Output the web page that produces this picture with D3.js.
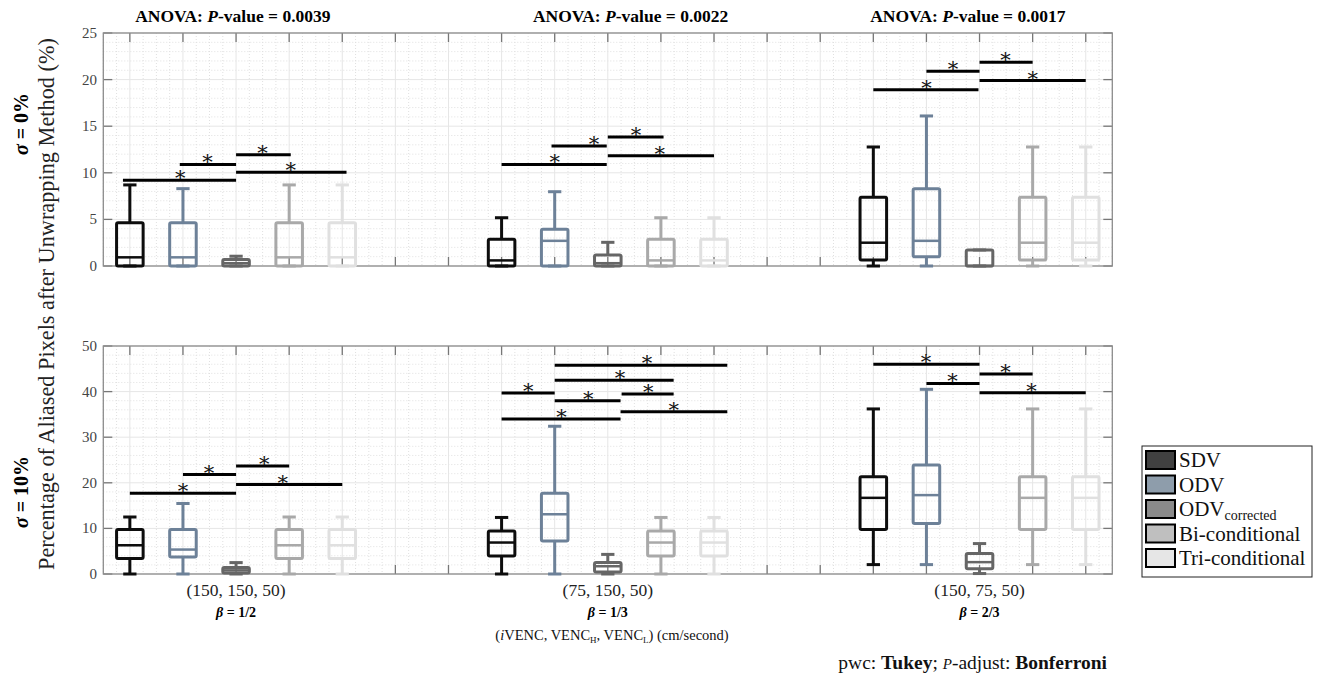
<!DOCTYPE html>
<html>
<head>
<meta charset="utf-8">
<script src="https://cdn.jsdelivr.net/npm/d3@7"></script>
<style>
  body { margin: 0; background: #fff; }
</style>
</head>
<body>
<svg id="chart"></svg>
<script>
// ---- data ----
const methods = ["SDV", "ODV", "ODV_corrected", "Bi-conditional", "Tri-conditional"];
const groupLabels = ["(150, 150, 50)", "(75, 150, 50)", "(150, 75, 50)"];
const betaLabels = ["1/2", "1/3", "2/3"];
const anovaP = ["0.0039", "0.0022", "0.0017"];
const sigmaLabels = ["0%", "10%"];
const yTicks0 = [0, 5, 10, 15, 20, 25];
const yTicks10 = [0, 10, 20, 30, 40, 50];

// box stats per group, per method: [min, q1, median, q3, max]
const stats0 = [
  [[0, 0, 0.93, 4.65, 8.7], [0, 0, 0.93, 4.65, 8.3], [0, 0, 0.3, 0.7, 1.05], [0, 0, 0.93, 4.65, 8.7], [0, 0, 0.93, 4.65, 8.7]],
  [[0, 0, 0.6, 2.86, 5.18], [0, 0, 2.7, 3.94, 7.97], [0, 0, 0.3, 1.18, 2.54], [0, 0, 0.6, 2.86, 5.18], [0, 0, 0.6, 2.86, 5.18]],
  [[0, 0.64, 2.5, 7.37, 12.77], [0, 1.0, 2.7, 8.3, 16.1], [0, 0, 0, 1.72, 1.72], [0, 0.64, 2.5, 7.37, 12.77], [0, 0.64, 2.5, 7.37, 12.77]]
];
const stats10 = [
  [[0, 3.38, 6.3, 9.75, 12.5], [0, 3.75, 5.36, 9.75, 15.46], [0, 0.2, 0.8, 1.4, 2.5], [0, 3.38, 6.3, 9.75, 12.5], [0, 3.38, 6.3, 9.75, 12.5]],
  [[0, 3.96, 6.9, 9.45, 12.4], [0, 7.26, 13.1, 17.7, 32.4], [0, 0.45, 1.7, 2.5, 4.3], [0, 3.96, 6.9, 9.45, 12.4], [0, 3.96, 6.9, 9.45, 12.4]],
  [[2.06, 9.75, 16.7, 21.3, 36.2], [2.06, 11.06, 17.3, 23.9, 40.5], [0.1, 1.17, 2.6, 4.47, 6.67], [2.06, 9.75, 16.7, 21.3, 36.2], [2.06, 9.75, 16.7, 21.3, 36.2]]
];

// significance bars: [from slot, to slot, y value, star slot]
const sig0 = [
  [-0.13, 2, 9.2, 0.95], [0.94, 2, 10.9, 1.46], [2, 3.03, 11.95, 2.5], [2, 4.08, 10.05, 3.03],
  [7, 8.98, 10.9, 8.0], [7.94, 8.98, 12.87, 8.74], [9, 10.05, 13.84, 9.53], [9, 11, 11.84, 9.98],
  [14, 15.98, 18.9, 15.0], [15, 16, 20.9, 15.5], [16, 17, 21.85, 16.49], [16, 18, 19.9, 17.0]
];
const sig10 = [
  [0, 2, 17.7, 1.0], [1, 2, 21.8, 1.49], [2, 3, 23.7, 2.53], [2, 4, 19.6, 2.88],
  [7, 8, 39.7, 7.5], [7, 9.24, 34.0, 8.13], [8, 9.24, 38.0, 8.63], [8, 10.24, 42.5, 9.23],
  [8, 11.25, 45.8, 9.74], [9.26, 10.24, 39.5, 9.76], [9.24, 11.25, 35.6, 10.24],
  [14, 16, 46.0, 14.99], [15, 16, 41.8, 15.49], [16, 17, 43.85, 16.49], [16, 18, 39.75, 16.98]
];

const strokeColors = ["#0d0d0d", "#6d8198", "#666666", "#a9a9a9", "#e0e0e0"];
const fillColors = ["#404040", "#8e9dab", "#8a8a8a", "#bfbfbf", "#e6e6e6"];

// ---- layout ----
const W = 1320, H = 678;
const serif = "'Liberation Serif', 'Times New Roman', serif";
const svg = d3.select("#chart").attr("width", W).attr("height", H)
  .attr("font-family", serif);

const x = d3.scaleLinear().domain([-0.5, 18.5]).range([103.3, 1112.3]);
const slot = (g, m) => g * 7 + m;
const color = d3.scaleOrdinal().domain(methods).range(strokeColors);
const legendFill = d3.scaleOrdinal().domain(methods).range(fillColors);

const panels = [
  { top: 33, bottom: 266, max: 25, ticks: yTicks0, minorStep: 1, stats: stats0, sig: sig0 },
  { top: 346, bottom: 574, max: 50, ticks: yTicks10, minorStep: 2, stats: stats10, sig: sig10 }
];

panels.forEach((p, pi) => {
  const y = d3.scaleLinear().domain([0, p.max]).range([p.bottom, p.top]);
  const g = svg.append("g");

  // minor grid
  const xMinor = d3.range(-0.5, 18.5001, 0.25).filter(v => Math.abs(v - Math.round(v)) > 0.01);
  g.append("g").selectAll("line").data(xMinor).join("line")
    .attr("x1", d => x(d)).attr("x2", d => x(d))
    .attr("y1", p.top).attr("y2", p.bottom)
    .attr("stroke", "#e0e0e0").attr("stroke-dasharray", "1,2");
  const yMinor = d3.range(0, p.max, p.minorStep).filter(v => !p.ticks.includes(v));
  g.append("g").selectAll("line").data(yMinor).join("line")
    .attr("x1", x.range()[0]).attr("x2", x.range()[1])
    .attr("y1", d => y(d)).attr("y2", d => y(d))
    .attr("stroke", "#e0e0e0").attr("stroke-dasharray", "1,2");

  // major grid
  g.append("g").selectAll("line").data(d3.range(0, 19)).join("line")
    .attr("x1", d => x(d)).attr("x2", d => x(d))
    .attr("y1", p.top).attr("y2", p.bottom)
    .attr("stroke", "#e6e6e6");
  g.append("g").selectAll("line").data(p.ticks).join("line")
    .attr("x1", x.range()[0]).attr("x2", x.range()[1])
    .attr("y1", d => y(d)).attr("y2", d => y(d))
    .attr("stroke", "#e6e6e6");

  // ticks (inward, all four sides)
  const tk = g.append("g").attr("stroke", "#777").attr("stroke-width", 1.3);
  d3.range(0, 19).forEach(v => {
    tk.append("line").attr("x1", x(v)).attr("x2", x(v)).attr("y1", p.top).attr("y2", p.top + 9);
    tk.append("line").attr("x1", x(v)).attr("x2", x(v)).attr("y1", p.bottom).attr("y2", p.bottom - 9);
  });
  p.ticks.forEach(v => {
    tk.append("line").attr("x1", x.range()[0]).attr("x2", x.range()[0] + 9).attr("y1", y(v)).attr("y2", y(v));
    tk.append("line").attr("x1", x.range()[1]).attr("x2", x.range()[1] - 9).attr("y1", y(v)).attr("y2", y(v));
  });

  // frame
  g.append("rect")
    .attr("x", x.range()[0]).attr("y", p.top)
    .attr("width", x.range()[1] - x.range()[0]).attr("height", p.bottom - p.top)
    .attr("fill", "none").attr("stroke", "#8c8c8c").attr("stroke-width", 1.3);

  // y tick labels
  g.append("g").selectAll("text").data(p.ticks).join("text")
    .attr("x", 97).attr("y", d => y(d) + 5)
    .attr("text-anchor", "end").attr("font-size", 15).attr("fill", "#444")
    .text(d => d);

  // boxes
  const boxes = [];
  p.stats.forEach((grp, gi) => grp.forEach((s, mi) => boxes.push({ gi, mi, s })));
  const bw = x(0.25) - x(0);
  const cw = x(0.125) - x(0);
  const bx = g.append("g").attr("fill", "none").attr("stroke-width", 3);
  boxes.forEach(b => {
    const cx = x(slot(b.gi, b.mi));
    const [mn, q1, md, q3, mx] = b.s;
    const c = color(methods[b.mi]);
    const bg = bx.append("g").attr("stroke", c);
    bg.append("line").attr("x1", cx).attr("x2", cx).attr("y1", y(q3)).attr("y2", y(mx));
    bg.append("line").attr("x1", cx).attr("x2", cx).attr("y1", y(q1)).attr("y2", y(mn));
    bg.append("line").attr("x1", cx - cw).attr("x2", cx + cw).attr("y1", y(mx)).attr("y2", y(mx));
    bg.append("line").attr("x1", cx - cw).attr("x2", cx + cw).attr("y1", y(mn)).attr("y2", y(mn));
    bg.append("rect").attr("x", cx - bw).attr("y", y(q3))
      .attr("width", 2 * bw).attr("height", Math.max(0.5, y(q1) - y(q3)))
      .attr("fill", "none").attr("rx", 1.5);
    bg.append("line").attr("x1", cx - bw).attr("x2", cx + bw).attr("y1", y(md)).attr("y2", y(md))
      .attr("stroke-width", 2.5);
  });

  // significance bars
  const sg = g.append("g");
  sg.selectAll("line").data(p.sig).join("line")
    .attr("x1", d => x(d[0])).attr("x2", d => x(d[1]))
    .attr("y1", d => y(d[2])).attr("y2", d => y(d[2]))
    .attr("stroke", "#000").attr("stroke-width", 3);
  sg.append("g").attr("opacity", 0.99).selectAll("text").data(p.sig).join("text")
    .attr("x", d => x(d[3])).attr("y", d => y(d[2]) + 5)
    .attr("text-anchor", "middle").attr("font-size", 21)
    .attr("font-family", "'DejaVu Serif', serif").attr("fill", "#111")
    .text("*");

  // sigma label
  const cyLab = pi === 0 ? 124 : 492;
  const st = svg.append("text")
    .attr("transform", `translate(28, ${cyLab}) rotate(-90)`)
    .attr("text-anchor", "middle").attr("font-size", 20).attr("font-weight", "bold");
  st.append("tspan").attr("font-style", "italic").text("σ");
  st.append("tspan").text(" = " + sigmaLabels[pi]);
});

// ANOVA titles
const titleX = [1.94, 9.43, 15.78];
anovaP.forEach((pv, i) => {
  const t = svg.append("text").attr("x", x(titleX[i])).attr("y", 22)
    .attr("text-anchor", "middle").attr("font-size", 17.5).attr("font-weight", "bold");
  t.append("tspan").text("ANOVA: ");
  t.append("tspan").attr("font-style", "italic").text("P");
  t.append("tspan").text("-value = " + pv);
});

// group labels
groupLabels.forEach((lab, i) => {
  svg.append("text").attr("x", x(slot(i, 2))).attr("y", 596)
    .attr("text-anchor", "middle").attr("font-size", 17.5).attr("fill", "#222").text(lab);
  const b = svg.append("text").attr("x", x(slot(i, 2))).attr("y", 617)
    .attr("text-anchor", "middle").attr("font-size", 14).attr("font-weight", "bold");
  b.append("tspan").attr("font-style", "italic").text("β");
  b.append("tspan").text(" = " + betaLabels[i]);
});

// main y label
svg.append("text")
  .attr("transform", `translate(54, 304) rotate(-90)`)
  .attr("text-anchor", "middle").attr("font-size", 22.3).attr("fill", "#222")
  .text("Percentage of Aliased Pixels after Unwrapping Method (%)");

// x label
const xl = svg.append("text").attr("x", 612).attr("y", 640)
  .attr("text-anchor", "middle").attr("font-size", 14.5).attr("fill", "#111");
xl.append("tspan").text("(");
xl.append("tspan").attr("font-style", "italic").text("i");
xl.append("tspan").text("VENC, VENC");
xl.append("tspan").attr("font-size", 9).attr("dy", 3).text("H");
xl.append("tspan").attr("dy", -3).text(", VENC");
xl.append("tspan").attr("font-size", 9).attr("dy", 3).text("L");
xl.append("tspan").attr("dy", -3).text(") (cm/second)");

// pwc note
const pw = svg.append("text").attr("x", 1107).attr("y", 669)
  .attr("text-anchor", "end").attr("font-size", 19.5).attr("fill", "#111");
pw.append("tspan").text("pwc: ");
pw.append("tspan").attr("font-weight", "bold").text("Tukey");
pw.append("tspan").text("; ");
pw.append("tspan").attr("font-style", "italic").attr("font-size", 15).text("P");
pw.append("tspan").text("-adjust: ");
pw.append("tspan").attr("font-weight", "bold").text("Bonferroni");

// legend
const lg = svg.append("g").attr("transform", "translate(1142, 446)");
lg.append("rect").attr("width", 170).attr("height", 131)
  .attr("fill", "#fff").attr("stroke", "#222").attr("stroke-width", 1);
const items = lg.selectAll("g").data(methods).join("g")
  .attr("transform", (d, i) => `translate(4, ${5 + i * 24.5})`);
items.append("rect").attr("width", 29).attr("height", 18)
  .attr("fill", d => legendFill(d)).attr("stroke", "#000").attr("stroke-width", 2);
const lt = items.append("text").attr("x", 33).attr("y", 16).attr("font-size", 21).attr("fill", "#111");
lt.each(function (d) {
  const t = d3.select(this);
  if (d === "ODV_corrected") {
    t.append("tspan").text("ODV");
    t.append("tspan").attr("font-size", 14).attr("dy", 4).text("corrected");
  } else {
    t.text(d);
  }
});
</script>
</body>
</html>
